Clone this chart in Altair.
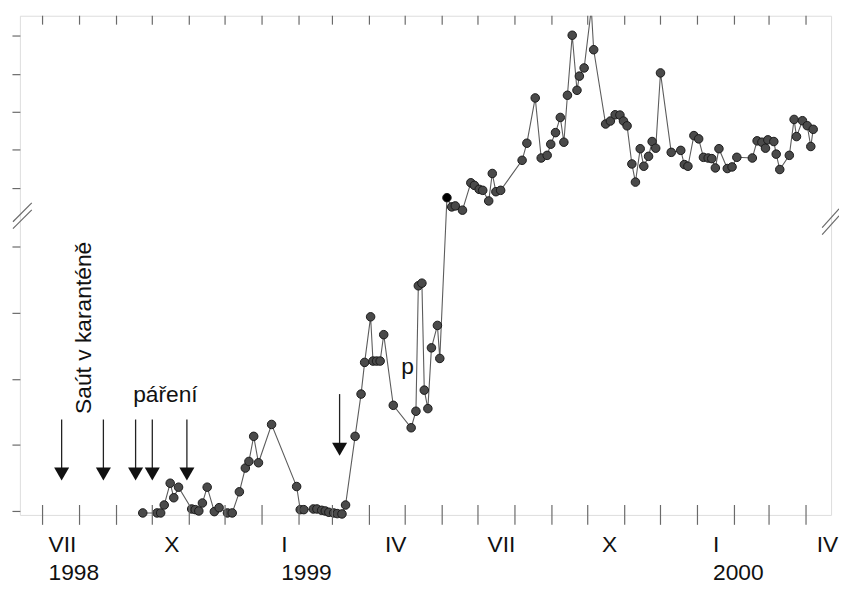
import altair as alt
import pandas as pd

# ---- data ----
dates = [
    "1998-09-23", "1998-10-05", "1998-10-08", "1998-10-11", "1998-10-16", "1998-10-19", "1998-10-23",
    "1998-11-03", "1998-11-06", "1998-11-09", "1998-11-12", "1998-11-16", "1998-11-22", "1998-11-26",
    "1998-12-03", "1998-12-07", "1998-12-13", "1998-12-18", "1998-12-21", "1998-12-25", "1998-12-29",
    "1999-01-09", "1999-01-30",
    "1999-02-02", "1999-02-05", "1999-02-13", "1999-02-16", "1999-02-20", "1999-02-23", "1999-02-26",
    "1999-03-02", "1999-03-05", "1999-03-09", "1999-03-12", "1999-03-20", "1999-03-25", "1999-03-28",
    "1999-04-02", "1999-04-04", "1999-04-07", "1999-04-10", "1999-04-13", "1999-04-21",
    "1999-05-06", "1999-05-10", "1999-05-12", "1999-05-15", "1999-05-17", "1999-05-20", "1999-05-23",
    "1999-05-28", "1999-05-30",
    "1999-06-05", "1999-06-09", "1999-06-12", "1999-06-18", "1999-06-25", "1999-06-28",
    "1999-07-02", "1999-07-05", "1999-07-10", "1999-07-13", "1999-07-16", "1999-07-20",
    "1999-08-07", "1999-08-11", "1999-08-18", "1999-08-23", "1999-08-28", "1999-08-31",
    "1999-09-04", "1999-09-08", "1999-09-11", "1999-09-14", "1999-09-18", "1999-09-22", "1999-09-24",
    "1999-09-28",
    "1999-10-04", "1999-10-06", "1999-10-16", "1999-10-20", "1999-10-24", "1999-10-28", "1999-10-31",
    "1999-11-03", "1999-11-07", "1999-11-10", "1999-11-14", "1999-11-17", "1999-11-21", "1999-11-24",
    "1999-11-27",
    "1999-12-01", "1999-12-10", "1999-12-18", "1999-12-21", "1999-12-24", "1999-12-29",
    "2000-01-02", "2000-01-06", "2000-01-10", "2000-01-13", "2000-01-16", "2000-01-19", "2000-01-26",
    "2000-01-30",
    "2000-02-03", "2000-02-16", "2000-02-20", "2000-02-24", "2000-02-27", "2000-02-29",
    "2000-03-05", "2000-03-07", "2000-03-10", "2000-03-18", "2000-03-22", "2000-03-24", "2000-03-29",
    "2000-04-02", "2000-04-05", "2000-04-07",
]
values = [
    -0.03, -0.03, -0.03, 0.09, 0.42, 0.20, 0.36,
    0.03, 0.02, 0.00, 0.12, 0.36, -0.01, 0.05,
    -0.03, -0.03, 0.29, 0.65, 0.75, 1.13, 0.73,
    1.31, 0.37,
    0.02, 0.02, 0.03, 0.03, 0.01, 0.00, -0.02,
    -0.03, -0.04, -0.045, 0.09, 1.13, 1.77, 2.25,
    2.94, 2.27, 2.27, 2.27, 2.67, 1.60,
    1.26, 1.51, 3.41, 3.45, 1.83, 1.55, 2.47, 2.81, 2.31,
    8.74, 7.53, 7.66, 7.10, 10.69, 10.35,
    9.83, 9.70, 8.31, 11.91, 9.52, 9.70,
    13.64, 15.88, 21.82, 13.94, 14.29, 15.75,
    17.27, 19.26, 16.01, 22.17, 30.04, 22.82, 24.68, 25.75,
    33.5, 28.14, 18.40, 18.79, 19.61, 19.57, 18.79,
    18.16, 13.16, 10.78, 15.16, 12.86, 14.16, 16.10, 15.23,
    25.10, 14.68, 14.94, 13.08, 12.86, 16.88,
    16.45, 14.03, 13.94, 13.86, 12.64, 15.16, 12.56, 12.77,
    14.03, 13.94, 16.19, 16.01, 15.23, 16.32,
    16.10, 14.45, 12.43, 14.29, 19.00, 16.75, 18.83,
    18.18, 15.45, 17.70,
]
special_date = "1999-06-05"

month_starts = [
    "1998-07-01", "1998-08-01", "1998-09-01", "1998-10-01", "1998-11-01", "1998-12-01",
    "1999-01-01", "1999-02-01", "1999-03-01", "1999-04-01", "1999-05-01", "1999-06-01",
    "1999-07-01", "1999-08-01", "1999-09-01", "1999-10-01", "1999-11-01", "1999-12-01",
    "2000-01-01", "2000-02-01", "2000-03-01", "2000-04-01",
]
label_dates = ["1998-07-06", "1998-10-11", "1999-01-17", "1999-04-14",
               "1999-07-09", "1999-10-13", "2000-01-14", "2000-04-10"]
label_texts = ["VII\n1998", "X", "I\n1999", "IV", "VII", "X", "I\n2000", "IV"]

y_ticks = [0, 1, 2, 3, 4, 10, 15, 20, 25, 30]

arrow_dates = ["1998-07-17", "1998-08-21", "1998-09-17", "1998-10-01", "1998-10-30", "1999-03-07"]
arrow_top = [1.385, 1.385, 1.385, 1.385, 1.385, 1.77]
arrow_head = [0.56, 0.56, 0.56, 0.56, 0.56, 0.935]

note_texts = ["páření", "p"]
note_dates = ["1998-10-12", "1999-05-03"]
note_values = [1.65, 2.07]
rot_text = "Saút v karanténě"
rot_date = "1998-08-11"
rot_value = 1.47

# ---- layout ----
W, H = 819, 504
FONT = "Liberation Sans"
AX = "#6a6a6a"

df = pd.DataFrame({"d": dates, "v": values})
df["special"] = df["d"] == special_date
ms = pd.DataFrame({"d": month_starts})
labs = pd.DataFrame({"d": label_dates, "t": label_texts})
arr = pd.DataFrame({"d": arrow_dates, "top": arrow_top, "head": arrow_head})
notes = pd.DataFrame({"d": note_dates, "v": note_values, "t": note_texts})
rot = pd.DataFrame({"d": [rot_date], "v": [rot_value], "t": [rot_text]})

x_scale = alt.Scale(domain=[alt.DateTime(year=1998, month=6, date=12, utc=True),
                            alt.DateTime(year=2000, month=4, date=22, utc=True)])
y_scale = alt.Scale(domain=[-0.06, 4.5, 6.62, 32.6], range=[H, 200, 200, 0], nice=False, zero=False)
y_axis = alt.Axis(values=y_ticks, labels=False, title=None, grid=False, domain=False,
                  tickSize=8, tickColor=AX, tickWidth=1.2)

X = alt.X("d:T", scale=x_scale, axis=None)


def Y(field):
    return alt.Y(field, scale=y_scale, axis=y_axis)


line = alt.Chart(df).mark_line(color="#5c5c5c", strokeWidth=1.1, clip=True).encode(x=X, y=Y("v:Q"))
pts = alt.Chart(df).transform_filter(alt.datum.v <= 32.6).mark_circle(
    size=74, opacity=1, stroke="#1a1a1a", strokeWidth=1
).encode(
    x=X, y=Y("v:Q"),
    fill=alt.condition(alt.datum.special, alt.value("#000000"), alt.value("#4a4a4a")),
)

top_ticks = alt.Chart(ms).mark_rule(color=AX, strokeWidth=1.2).encode(
    x=X, y=alt.value(0), y2=alt.value(9))
bot_ticks = alt.Chart(ms).mark_rule(color=AX, strokeWidth=1.2).encode(
    x=X, y=alt.value(H - 10), y2=alt.value(H + 10))

labels = alt.Chart(labs).mark_text(
    align="left", baseline="alphabetic", fontSize=23, font=FONT, lineBreak="\n",
    lineHeight=29, color="#111111"
).encode(x=X, y=alt.value(H + 37), text="t:N")

shafts = alt.Chart(arr).mark_rule(color="#222222", strokeWidth=1.3).encode(
    x=X, y=Y("top:Q"), y2="head:Q")
heads = alt.Chart(arr).mark_point(shape="triangle-down", filled=True, size=230, opacity=1,
                                  color="#111111").encode(x=X, y=Y("head:Q"))

note_layer = alt.Chart(notes).mark_text(
    align="center", baseline="alphabetic", fontSize=23, font=FONT, color="#111111"
).encode(x=X, y=Y("v:Q"), text="t:N")
rot_layer = alt.Chart(rot).mark_text(
    align="left", baseline="alphabetic", fontSize=23, font=FONT, color="#111111", angle=270
).encode(x=X, y=Y("v:Q"), text="t:N")

# axis-break marks (decoration, pixel positions)
brk = pd.DataFrame({
    "x1": [-7, -7, W - 9, W - 9],
    "x2": [12, 12, W + 8, W + 8],
    "y1": [208, 215, 214, 221],
    "y2": [189, 196, 195, 202],
})
breaks = alt.Chart(brk).mark_rule(color=AX, strokeWidth=1.2).encode(
    x=alt.X("x1:Q", scale=None), x2="x2:Q",
    y=alt.Y("y1:Q", scale=None), y2="y2:Q")

chart = alt.layer(
    line, pts, top_ticks, bot_ticks, labels, shafts, heads, note_layer, rot_layer, breaks
).properties(
    width=W, height=H,
    padding={"left": 12, "top": 5, "right": 8, "bottom": 73},
    autosize=alt.AutoSizeParams(type="none"),
).configure_view(
    stroke=AX, strokeWidth=1.2
).configure(background="white")

chart.save("out.html", embed_options={"renderer": "svg", "actions": False})
